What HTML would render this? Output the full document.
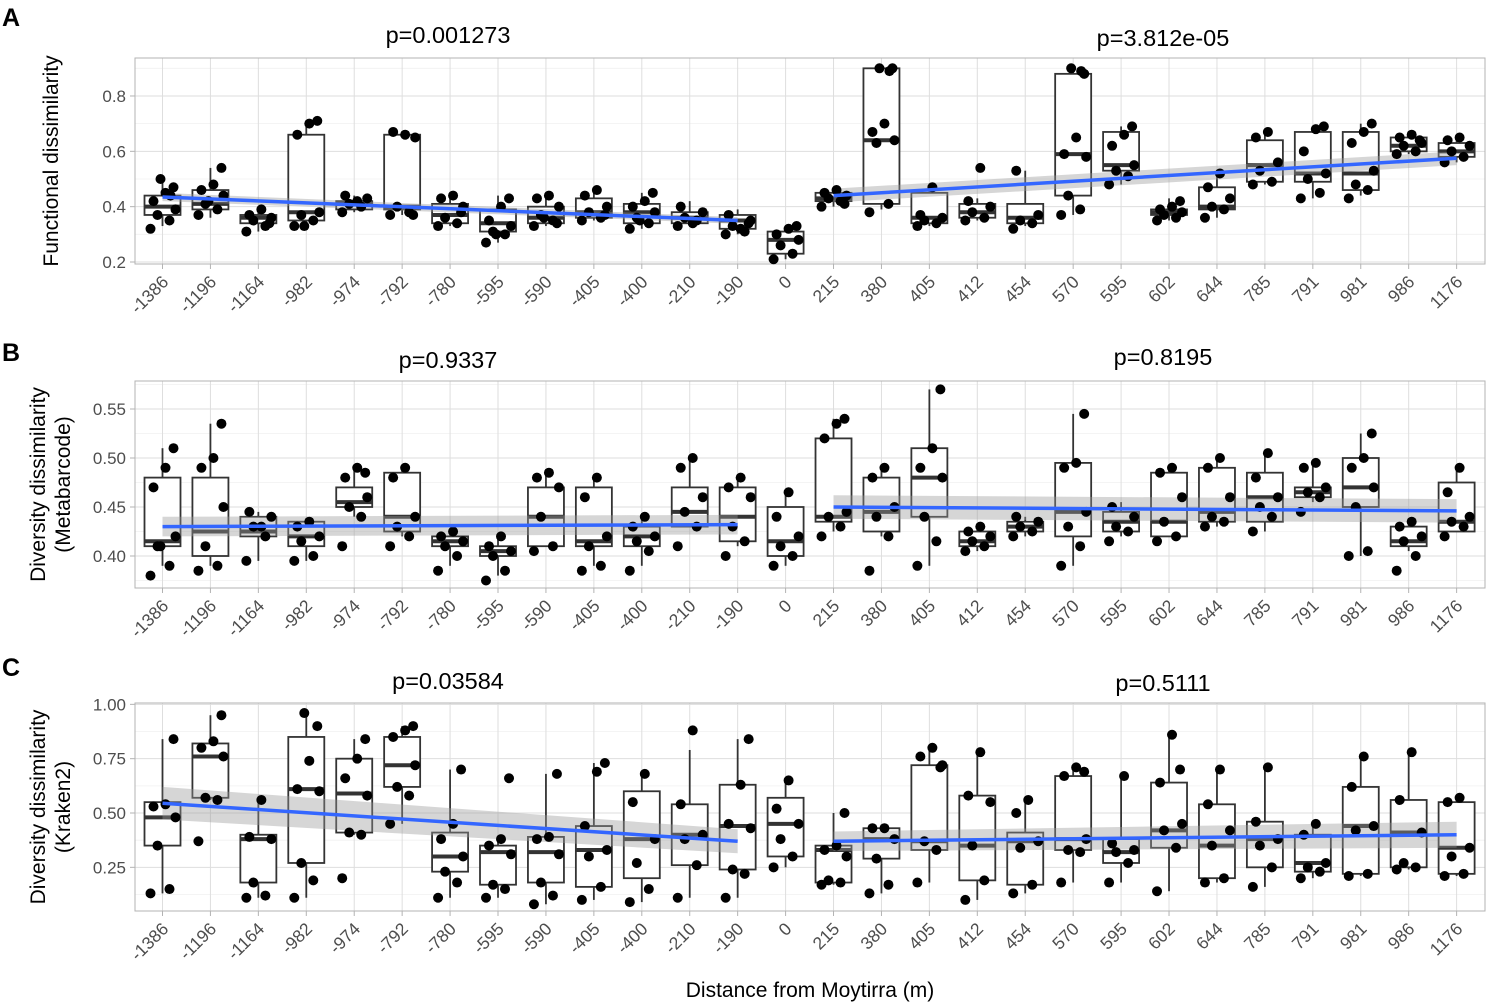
<!DOCTYPE html>
<html><head><meta charset="utf-8">
<style>
html,body{margin:0;padding:0;background:#fff;}
svg{display:block;font-family:"Liberation Sans",Arial,sans-serif;}
</style></head>
<body>
<svg id="chart" width="1491" height="1006" viewBox="0 0 1491 1006"></svg>
<script>
const categories=["-1386","-1196","-1164","-982","-974","-792","-780","-595","-590","-405","-400","-210","-190","0","215","380","405","412","454","570","595","602","644","785","791","981","986","1176"];
// boxes: [lo,q1,med,q3,hi]
const boxesA=[[.33,.37,.40,.44,.50],[.36,.39,.41,.46,.54],[.31,.34,.36,.37,.40],[.33,.35,.38,.66,.71],[.38,.39,.41,.42,.44],[.37,.39,.40,.66,.67],[.33,.34,.37,.41,.44],[.27,.31,.34,.39,.44],[.33,.34,.36,.40,.44],[.35,.36,.38,.43,.47],[.32,.34,.38,.41,.45],[.33,.34,.36,.38,.42],[.30,.32,.35,.37,.39],[.21,.23,.28,.31,.33],[.40,.42,.43,.45,.46],[.39,.41,.64,.90,.90],[.33,.34,.36,.45,.47],[.35,.36,.38,.41,.43],[.33,.34,.36,.41,.53],[.37,.44,.59,.88,.90],[.48,.53,.55,.67,.69],[.35,.37,.38,.39,.43],[.36,.39,.40,.47,.52],[.48,.49,.55,.64,.67],[.43,.49,.52,.67,.69],[.44,.46,.52,.67,.70],[.59,.60,.62,.65,.67],[.56,.58,.60,.63,.65]];
const pointsA=[[.32,.35,.37,.39,.42,.45,.47,.50,.44],[.37,.39,.41,.44,.46,.48,.54,.42],[.31,.33,.35,.36,.37,.39,.34],[.33,.35,.37,.38,.66,.70,.71,.33],[.38,.40,.41,.43,.44,.42],[.37,.38,.40,.65,.67,.66,.37],[.33,.34,.36,.40,.43,.44,.38],[.27,.30,.31,.33,.35,.40,.43,.30],[.33,.35,.37,.40,.43,.44,.34,.36],[.35,.36,.38,.40,.44,.46,.37],[.32,.34,.36,.38,.40,.42,.45,.35],[.33,.35,.36,.38,.40,.34],[.30,.31,.33,.35,.37,.32,.34],[.21,.23,.26,.28,.30,.32,.33],[.40,.42,.43,.44,.45,.46,.41],[.38,.41,.63,.64,.67,.70,.90,.90,.89],[.33,.34,.35,.36,.37,.47],[.35,.36,.38,.40,.42,.54],[.32,.34,.35,.37,.53],[.37,.39,.44,.58,.59,.65,.88,.90,.89],[.48,.51,.53,.55,.62,.66,.69],[.35,.36,.37,.38,.39,.40,.42],[.36,.39,.40,.43,.47,.52],[.48,.49,.53,.56,.65,.67],[.43,.45,.50,.52,.60,.68,.69],[.43,.46,.48,.53,.63,.67,.70],[.59,.60,.62,.63,.65,.66,.64],[.56,.58,.60,.62,.64,.65]];
const boxesB=[[.39,.41,.415,.48,.51],[.39,.40,.425,.48,.535],[.395,.42,.425,.44,.445],[.395,.41,.42,.435,.435],[.44,.45,.455,.47,.49],[.42,.425,.44,.485,.49],[.39,.41,.415,.42,.425],[.38,.40,.405,.41,.42],[.41,.41,.44,.47,.485],[.39,.41,.415,.47,.48],[.39,.41,.42,.43,.44],[.43,.43,.445,.47,.50],[.41,.415,.44,.47,.48],[.39,.40,.415,.45,.465],[.425,.435,.44,.52,.54],[.42,.425,.445,.48,.49],[.39,.44,.48,.51,.57],[.405,.41,.415,.425,.43],[.42,.425,.43,.435,.44],[.39,.42,.445,.495,.545],[.42,.425,.435,.445,.455],[.42,.42,.435,.485,.49],[.43,.435,.445,.49,.50],[.425,.435,.46,.485,.505],[.455,.46,.465,.47,.495],[.40,.45,.47,.50,.525],[.405,.41,.415,.43,.435],[.425,.425,.435,.475,.49]];
const pointsB=[[.38,.39,.41,.42,.47,.49,.51,.41],[.385,.39,.41,.45,.49,.50,.535],[.395,.42,.43,.44,.445,.43],[.395,.40,.415,.42,.43,.435],[.41,.44,.45,.46,.48,.49,.485],[.41,.42,.43,.44,.48,.49],[.385,.40,.41,.415,.42,.425],[.375,.385,.40,.405,.41,.42],[.405,.41,.44,.47,.48,.485],[.385,.39,.41,.42,.46,.48],[.385,.405,.415,.42,.43,.44],[.41,.43,.445,.46,.49,.50],[.40,.415,.43,.46,.47,.48],[.39,.40,.41,.42,.44,.465],[.42,.43,.44,.445,.52,.535,.54],[.385,.42,.44,.45,.48,.49],[.39,.415,.44,.48,.49,.51,.57],[.405,.41,.415,.42,.425,.43],[.42,.425,.43,.435,.44],[.39,.41,.43,.445,.49,.495,.545],[.415,.425,.43,.44,.45],[.415,.42,.435,.46,.485,.49],[.43,.435,.44,.46,.49,.50],[.425,.44,.45,.46,.48,.505],[.445,.46,.465,.47,.49,.495],[.40,.405,.45,.47,.49,.50,.525],[.385,.40,.415,.42,.43,.435],[.42,.43,.435,.44,.465,.49]];
const boxesC=[[.13,.35,.48,.55,.84],[.56,.57,.76,.82,.95],[.11,.18,.38,.40,.56],[.11,.27,.61,.85,.96],[.40,.41,.59,.75,.84],[.45,.62,.72,.85,.90],[.11,.23,.30,.41,.70],[.11,.17,.32,.35,.38],[.08,.18,.32,.39,.68],[.10,.16,.33,.44,.73],[.09,.20,.38,.60,.68],[.11,.26,.40,.54,.79],[.11,.24,.44,.63,.84],[.25,.30,.45,.57,.65],[.17,.18,.33,.35,.50],[.13,.29,.38,.43,.43],[.18,.33,.37,.72,.80],[.10,.19,.35,.58,.78],[.13,.17,.37,.41,.56],[.18,.33,.38,.67,.71],[.18,.27,.32,.38,.67],[.14,.34,.42,.64,.86],[.18,.20,.35,.54,.70],[.16,.25,.38,.46,.71],[.20,.23,.27,.40,.45],[.21,.22,.44,.62,.76],[.24,.25,.41,.56,.78],[.21,.22,.34,.55,.57]];
const pointsC=[[.13,.15,.35,.48,.53,.54,.84],[.37,.56,.57,.76,.80,.83,.95],[.11,.12,.18,.38,.39,.56],[.11,.19,.27,.60,.61,.74,.90,.96],[.20,.40,.41,.58,.66,.75,.84],[.45,.58,.62,.72,.85,.88,.90],[.11,.18,.23,.30,.38,.45,.70],[.11,.15,.17,.31,.35,.38,.66],[.08,.12,.18,.31,.38,.39,.68],[.10,.16,.30,.33,.44,.69,.73],[.09,.15,.27,.38,.55,.68],[.11,.26,.38,.40,.54,.88],[.11,.22,.24,.43,.45,.63,.84],[.25,.30,.38,.45,.52,.65],[.17,.18,.19,.30,.33,.35,.50],[.13,.17,.29,.38,.43,.43],[.18,.33,.37,.72,.76,.80,.71],[.10,.19,.35,.55,.58,.78],[.13,.17,.34,.37,.50,.56],[.18,.32,.33,.38,.67,.71,.69],[.18,.27,.32,.33,.36,.67],[.14,.34,.42,.45,.64,.86,.70],[.18,.20,.35,.42,.54,.70],[.16,.25,.35,.38,.46,.71],[.20,.23,.25,.27,.40,.45],[.21,.22,.42,.44,.62,.76],[.24,.25,.27,.41,.56,.78],[.21,.22,.30,.34,.55,.57]];
// fits: [startIdx,endIdx,startVal,endVal,seHalfStart,seHalfEnd]
const fitsA=[[0,12,.435,.35,.015,.012],[14,27,.44,.575,.025,.025]];
const fitsB=[[0,12,.43,.432,.01,.01],[14,27,.45,.446,.012,.012]];
const fitsC=[[0,12,.545,.37,.075,.055],[14,27,.37,.40,.045,.06]];
const ticksA=[0.2,0.4,0.6,0.8], tickLabelsA=["0.2","0.4","0.6","0.8"];
const ticksB=[0.40,0.45,0.50,0.55], tickLabelsB=["0.40","0.45","0.50","0.55"];
const ticksC=[0.25,0.50,0.75,1.00], tickLabelsC=["0.25","0.50","0.75","1.00"];
const pLabelsA=["p=0.001273","p=3.812e-05"], pLabelsB=["p=0.9337","p=0.8195"], pLabelsC=["p=0.03584","p=0.5111"];

const NS="http://www.w3.org/2000/svg";
const svg=document.getElementById('chart');
function mk(tag,attrs,parent,txt){const e=document.createElementNS(NS,tag);for(const k in attrs)e.setAttribute(k,attrs[k]);if(txt!==undefined)e.textContent=txt;(parent||svg).appendChild(e);return e;}
const L=135,R=1485,X0=162.5,DX=47.93;
function xs(i){return X0+DX*i;}
const jit=[-12,7,-5,13,-9,3,11,-2,8];

function panel(cfg){
  const g=mk('g',{});
  
  
  const ys=v=>cfg.y0px+(v-cfg.v0)*cfg.scale;
  mk('rect',{x:L,y:cfg.top,width:R-L,height:cfg.bottom-cfg.top,fill:'#fff',stroke:'none'},g);
  for(let k=0;k<cfg.ticks.length;k++){
    if(k<cfg.ticks.length-1){const m=(cfg.ticks[k]+cfg.ticks[k+1])/2;mk('line',{x1:L,x2:R,y1:ys(m),y2:ys(m),stroke:'#f0f0f0','stroke-width':0.8},g);}
  }
  const lo=cfg.ticks[0]-(cfg.ticks[1]-cfg.ticks[0])/2, hi=cfg.ticks[cfg.ticks.length-1]+(cfg.ticks[1]-cfg.ticks[0])/2;
  [lo,hi].forEach(m=>{const y=ys(m);if(y>cfg.top&&y<cfg.bottom)mk('line',{x1:L,x2:R,y1:y,y2:y,stroke:'#f0f0f0','stroke-width':0.8},g);});
  cfg.ticks.forEach((t,k)=>{
    const y=ys(t);
    mk('line',{x1:L,x2:R,y1:y,y2:y,stroke:'#dedede','stroke-width':1},g);
    mk('line',{x1:L-5,x2:L,y1:y,y2:y,stroke:'#b3b3b3','stroke-width':1},g);
    const t1=mk('text',{x:L-9,y:y+6,'text-anchor':'end','font-size':17,fill:'#4d4d4d'},g,cfg.tickLabels[k]);
    
    
  });
  categories.forEach((c,i)=>{
    const x=xs(i);
    mk('line',{x1:x,x2:x,y1:cfg.top,y2:cfg.bottom,stroke:'#dedede','stroke-width':1},g);
    mk('line',{x1:x,x2:x,y1:cfg.bottom,y2:cfg.bottom+5,stroke:'#b3b3b3','stroke-width':1},g);
    const tx=x+7, ty=cfg.bottom+19;
    const t=mk('text',{x:tx,y:ty,'text-anchor':'end','font-size':17.5,fill:'#4d4d4d',transform:`rotate(-45 ${tx} ${ty})`},g,c);
    
    
  });
  mk('rect',{x:L,y:cfg.top,width:R-L,height:cfg.bottom-cfg.top,fill:'none',stroke:'#b3b3b3','stroke-width':1},g);
  cfg.boxes.forEach((b,i)=>{
    const x=xs(i),w=36;
    const bg=mk('g',{},g);
    
    
    mk('line',{x1:x,x2:x,y1:ys(b[0]),y2:ys(b[1]),stroke:'#333','stroke-width':1.8},bg);
    mk('line',{x1:x,x2:x,y1:ys(b[3]),y2:ys(b[4]),stroke:'#333','stroke-width':1.8},bg);
    mk('rect',{x:x-w/2,y:ys(b[3]),width:w,height:Math.max(0.5,ys(b[1])-ys(b[3])),fill:'#fff',stroke:'#333','stroke-width':1.8},bg);
    mk('line',{x1:x-w/2,x2:x+w/2,y1:ys(b[2]),y2:ys(b[2]),stroke:'#333','stroke-width':4},bg);
  });
  cfg.fits.forEach((f,k)=>{
    const x1=xs(f[0]),x2=xs(f[1]);
    const p=`M${x1},${ys(f[2]+f[4])} L${x2},${ys(f[3]+f[5])} L${x2},${ys(f[3]-f[5])} L${x1},${ys(f[2]-f[4])} Z`;
    const band=mk('path',{d:p,fill:'#999','fill-opacity':0.4,stroke:'none'},g);
    
    
  });
  cfg.points.forEach((ps,i)=>{
    ps.forEach((v,j)=>{
      const c=mk('circle',{cx:xs(i)+jit[j%jit.length],cy:ys(v),r:5,fill:'#000'},g);
      
      
    });
  });
  cfg.fits.forEach(f=>{
    const ln=mk('line',{x1:xs(f[0]),x2:xs(f[1]),y1:ys(f[2]),y2:ys(f[3]),stroke:'#3366FF','stroke-width':3.5},g);
    
    
  });
  cfg.pLabels.forEach((p,k)=>{
    const t=mk('text',{x:k?1163:448,y:cfg.pY[k],'text-anchor':'middle','font-size':23.5,fill:'#000'},g,p);
    
    
  });
  const pl=mk('text',{x:2,y:cfg.letterY,'font-size':25,'font-weight':'bold',fill:'#000'},g,cfg.letter);
  
  
  const cy=(cfg.top+cfg.bottom)/2;
  const yt=mk('text',{x:0,y:0,'text-anchor':'middle','font-size':21,fill:'#000',transform:`translate(${cfg.titleX},${cy}) rotate(-90)`},g);
  
  
  cfg.title.forEach((s,k)=>{mk('tspan',{x:0,dy:k?25:0},yt,s);});
}
panel({name:'panel-a',letter:'A',letterY:26,top:58,bottom:264,y0px:262,v0:0.2,scale:-276.7,ticks:ticksA,tickLabels:tickLabelsA,boxes:boxesA,points:pointsA,fits:fitsA,pLabels:pLabelsA,pY:[43,46],title:['Functional dissimilarity'],titleX:58});
panel({name:'panel-b',letter:'B',letterY:361,top:381,bottom:588,y0px:556,v0:0.40,scale:-980,ticks:ticksB,tickLabels:tickLabelsB,boxes:boxesB,points:pointsB,fits:fitsB,pLabels:pLabelsB,pY:[368,365],title:['Diversity dissimilarity','(Metabarcode)'],titleX:45});
panel({name:'panel-c',letter:'C',letterY:676,top:703,bottom:911,y0px:813,v0:0.50,scale:-217.3,ticks:ticksC,tickLabels:tickLabelsC,boxes:boxesC,points:pointsC,fits:fitsC,pLabels:pLabelsC,pY:[689,691],title:['Diversity dissimilarity','(Kraken2)'],titleX:45});
const xt=mk('text',{x:810,y:997,'text-anchor':'middle','font-size':21,fill:'#000'},svg,'Distance from Moytirra (m)');


</script>
</body></html>
